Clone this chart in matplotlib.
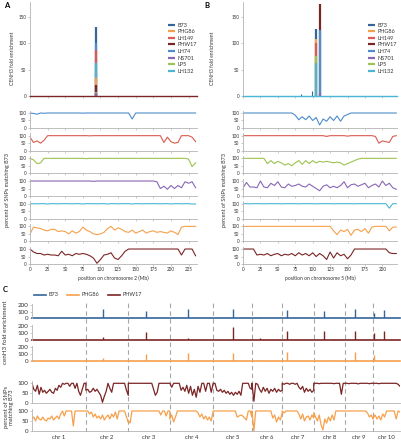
import matplotlib
matplotlib.use("Agg")
import matplotlib.pyplot as plt
import numpy as np

plt.rcParams["font.family"] = ["Lato", "DejaVu Sans"]

# genotypes shown in the enrichment legends (A, B)
names = ["B73", "PHG86", "LH149", "PHW17", "LH74", "NS701", "LP5", "LH132"]
colors = ["#34659b", "#f7a04b", "#dc5a50", "#7b2525", "#4e8ccc", "#8867b5", "#9dc350", "#49b7d3"]

# ---- panel A: chromosome 2 ----
a_chr_len = 237
a_peak_pos = [93, 93, 93, 93, 93, 93, 93, 93]
a_peak_h = [130, 35, 88, 20, 100, 5, 8, 62]
a_pos = np.arange(0, 240, 5)
a_lh74 = [100, 97, 92, 100, 98, 100, 100, 100, 100, 100, 100, 100,
          100, 100, 100, 99, 100, 100, 100, 100, 100, 100, 100, 100,
          100, 100, 100, 100, 100, 60, 100, 100, 100, 100, 100, 100,
          100, 100, 100, 100, 100, 100, 100, 100, 100, 100, 100, 100]
a_lh149 = [90, 55, 65, 50, 70, 100, 100, 100, 100, 100, 100, 100,
           100, 100, 100, 100, 100, 99, 100, 100, 100, 100, 100, 100,
           100, 100, 100, 100, 100, 100, 100, 100, 100, 100, 100, 100,
           100, 100, 55, 90, 60, 50, 55, 100, 100, 100, 90, 60]
a_lp5 = [100, 90, 65, 70, 100, 100, 100, 100, 100, 100, 100, 100,
         100, 100, 100, 100, 98, 100, 100, 100, 100, 100, 100, 100,
         100, 100, 100, 100, 100, 100, 100, 100, 100, 100, 100, 100,
         100, 100, 100, 100, 100, 100, 100, 100, 100, 95, 45, 70]
a_ns701 = [100, 100, 100, 100, 100, 100, 100, 100, 100, 100, 100, 100,
           100, 100, 100, 100, 100, 100, 98, 100, 100, 100, 100, 100,
           100, 100, 100, 100, 100, 100, 100, 100, 100, 100, 100, 100,
           95, 50, 65, 45, 70, 50, 70, 55, 95, 85, 95, 55]
a_lh132 = [98, 100, 99, 100, 100, 98, 100, 100, 99, 100, 100, 100,
           99, 100, 100, 98, 100, 100, 100, 99, 100, 100, 98, 100,
           100, 99, 100, 100, 100, 98, 100, 100, 99, 100, 100, 100,
           100, 99, 100, 100, 98, 100, 100, 99, 100, 100, 98, 98]
a_phg86 = [50, 95, 90, 85, 75, 70, 80, 80, 65, 70, 65, 50,
           70, 55, 65, 95, 75, 65, 50, 45, 50, 60, 85, 100,
           75, 90, 80, 65, 60, 75, 55, 65, 75, 55, 65, 70,
           60, 65, 60, 55, 70, 60, 45, 95, 100, 100, 100, 100]
a_phw17 = [100, 80, 70, 70, 60, 65, 60, 60, 55, 85, 60, 65,
           55, 70, 65, 70, 65, 55, 40, 5, 30, 60, 65, 75,
           40, 30, 55, 85, 100, 100, 100, 100, 100, 100, 100, 100,
           100, 100, 100, 100, 100, 100, 100, 60, 100, 100, 100, 55]

# ---- panel B: chromosome 5 ----
b_chr_len = 221
b_peak_pos = [105, 105, 105, 110, 110, 110, 105, 105]
b_peak_h = [128, 108, 100, 175, 125, 5, 75, 62]
b_minor_pos = [83, 99]
b_minor_h = [3, 10]
b_pos = np.arange(0, 225, 5)
b_lh74 = [100, 100, 100, 100, 100, 100, 100, 100, 100, 100, 100, 100,
          100, 100, 100, 85, 55, 75, 55, 80, 50, 70, 20, 60,
          45, 75, 50, 80, 45, 80, 90, 100, 100, 100, 100, 100,
          100, 100, 100, 100, 100, 100, 100, 100, 100]
b_lh149 = [100, 100, 100, 100, 100, 100, 100, 100, 100, 100, 100, 100,
           100, 100, 100, 100, 100, 100, 100, 100, 100, 100, 100, 100,
           95, 100, 100, 100, 100, 100, 97, 100, 100, 100, 100, 100,
           100, 100, 95, 50, 65, 60, 55, 95, 100]
b_lp5 = [100, 100, 100, 100, 100, 100, 100, 65, 85, 65, 80, 70,
         55, 65, 50, 70, 85, 60, 85, 65, 85, 70, 80, 75,
         80, 75, 70, 75, 70, 55, 65, 75, 85, 95, 100, 100,
         100, 100, 100, 100, 100, 100, 100, 100, 100]
b_ns701 = [55, 90, 60, 60, 55, 100, 60, 55, 85, 70, 95, 60,
           55, 80, 65, 70, 80, 65, 60, 80, 65, 50, 35, 65,
           75, 55, 65, 55, 70, 95, 55, 75, 80, 65, 75, 85,
           55, 70, 80, 60, 100, 70, 85, 55, 45]
b_lh132 = [100, 100, 99, 100, 100, 100, 99, 100, 100, 100, 100, 99,
           100, 100, 100, 100, 99, 100, 100, 100, 100, 99, 100, 100,
           100, 100, 99, 100, 100, 100, 100, 100, 99, 100, 100, 100,
           100, 100, 100, 100, 100, 100, 70, 100, 100]
b_phg86 = [100, 100, 100, 100, 100, 100, 100, 100, 100, 100, 100, 100,
           100, 100, 100, 100, 100, 100, 100, 100, 100, 100, 100, 100,
           100, 100, 70, 45, 75, 65, 80, 40, 75, 80, 65, 85,
           55, 95, 100, 100, 100, 100, 70, 95, 95]
b_phw17 = [100, 100, 100, 100, 60, 65, 60, 70, 55, 65, 70, 55,
           65, 60, 70, 55, 75, 60, 70, 55, 75, 50, 70, 55,
           30, 80, 40, 75, 55, 65, 35, 60, 100, 100, 100, 100,
           100, 100, 100, 100, 100, 100, 75, 70, 70]

# ---- panel C: whole genome ----
chr_len = [301, 237, 232, 242, 217, 169, 176, 175, 157, 150]
cen_chr = [2, 3, 4, 5, 6, 7, 8, 8, 9, 10, 10]
cen_pos = [95, 100, 100, 112, 45, 26, 56, 106, 56, 5, 61]
c_b73_h = [135, 105, 135, 135, 20, 120, 110, 10, 135, 80, 125]
c_phw17_h = [35, 105, 20, 185, 25, 130, 120, 10, 120, 90, 120]
c_phg86_h = [45, 100, 110, 115, 15, 125, 0, 5, 125, 80, 0]

c_phw17_snp = [
    [100, 70, 60, 90, 45, 80, 55, 65, 50, 60, 70, 55, 50, 75, 65, 90, 80, 100, 95, 100, 100, 85, 100, 100, 75, 100, 60, 40, 70, 100, 100],
    [65, 70, 55, 60, 75, 60, 70, 55, 40, 5, 35, 60, 100, 75, 55, 100, 100, 100, 100, 100, 100, 100, 65, 40],
    [100, 100, 100, 100, 100, 100, 100, 100, 100, 100, 100, 100, 100, 100, 70, 40, 55, 100, 100, 100, 100, 100, 100, 100],
    [100, 80, 100, 100, 100, 100, 65, 80, 60, 90, 50, 85, 40, 70, 30, 85, 55, 100, 100, 60, 100, 100, 55, 100],
    [100, 100, 65, 60, 70, 55, 65, 50, 60, 45, 55, 40, 55, 45, 60, 40, 100, 100, 100, 100, 75, 70],
    [100, 10, 100, 95, 70, 55, 80, 60, 75, 50, 70, 60, 75, 55, 70, 60, 65],
    [100, 95, 100, 100, 95, 100, 100, 95, 100, 80, 70, 85, 55, 75, 60, 70, 55, 65],
    [100, 100, 100, 98, 100, 100, 100, 100, 100, 100, 100, 98, 100, 100, 100, 45, 100, 100],
    [100, 100, 98, 100, 100, 100, 100, 97, 100, 100, 100, 100, 100, 98, 100, 100],
    [100, 100, 100, 98, 100, 100, 100, 100, 100, 100, 100, 100, 100, 95, 85],
]
c_phg86_snp = [
    [60, 70, 50, 75, 60, 55, 70, 55, 50, 65, 60, 75, 55, 65, 75, 60, 85, 100, 75, 100, 100, 100, 100, 25, 100, 100, 100, 100, 100, 100, 100],
    [100, 100, 85, 95, 70, 85, 65, 75, 60, 80, 55, 70, 80, 60, 85, 70, 95, 60, 100, 100, 100, 100, 70, 45],
    [50, 40, 100, 100, 100, 100, 100, 100, 100, 100, 100, 100, 100, 100, 100, 100, 100, 100, 80, 100, 100, 75, 100, 100],
    [60, 80, 45, 70, 100, 100, 100, 100, 100, 100, 100, 100, 100, 100, 100, 90, 70, 85, 60, 75, 55, 70, 50, 100],
    [100, 100, 100, 100, 100, 100, 100, 100, 100, 100, 100, 100, 100, 70, 75, 80, 75, 65, 55, 100, 100, 70],
    [100, 0, 100, 100, 100, 100, 100, 100, 100, 100, 100, 65, 80, 45, 70, 55, 90],
    [100, 90, 100, 100, 100, 100, 100, 100, 100, 85, 60, 85, 50, 70, 75, 55, 80, 65],
    [90, 70, 50, 80, 30, 5, 60, 40, 70, 50, 80, 55, 100, 100, 100, 100, 100, 100],
    [100, 100, 100, 100, 100, 100, 100, 100, 100, 100, 100, 100, 90, 70, 80, 60],
    [65, 80, 60, 75, 55, 85, 70, 100, 100, 100, 100, 100, 60, 100, 95],
]

W, H = 402, 440
fig = plt.figure(figsize=(W / 100, H / 100), dpi=100)

GREY = "#b3b3b3"
TXT = "#333333"


def box(left, top, right, bottom):
    # pixel rectangle -> figure fraction
    return [left / W, 1 - bottom / H, (right - left) / W, (bottom - top) / H]


def style(ax, fs):
    ax.patch.set_alpha(0)
    for s in ("top", "right"):
        ax.spines[s].set_visible(False)
    for s in ("left", "bottom"):
        ax.spines[s].set_color(GREY)
        ax.spines[s].set_linewidth(0.6)
    ax.tick_params(labelsize=fs, colors=GREY, labelcolor=TXT, length=1.5, width=0.5, pad=1)


def chrom_panel(x0, x1, xmax, peak_pos, peak_h, base_col, pos, tracks, chrom, leg_x, lab_x, snp_lab_x):
    ax = fig.add_axes(box(x0, 2.2, x1, 96))
    style(ax, 3.3)
    ax.set_xlim(0, xmax)
    ax.set_ylim(0, 178)
    ax.set_yticks([0, 50, 100, 150])
    ax.set_xticks(np.arange(0, xmax, 25))
    ax.set_xticklabels([])
    handles = {}
    for k in np.argsort(peak_h)[::-1]:
        handles[k] = ax.vlines(peak_pos[k], 0, peak_h[k], color=colors[k], lw=1.6, zorder=2)
    ax.axhline(0, color=base_col, lw=1.0, clip_on=False, zorder=3)
    ax.legend([handles[k] for k in range(len(names))], names, loc="upper left",
              bbox_to_anchor=(leg_x / W, 1 - 20 / H), bbox_transform=fig.transFigure,
              frameon=False, fontsize=4, handlelength=1.3, handletextpad=0.4,
              labelspacing=0.28, borderpad=0, labelcolor=TXT)
    fig.text(lab_x / W, 1 - 58 / H, "CENH3 fold enrichment", rotation=90,
             fontsize=3.6, ha="center", va="center", color=TXT)

    for i, (vals, col) in enumerate(tracks):
        bottom = 128 + 22.67 * i
        sx = fig.add_axes(box(x0, bottom - 17.25, x1, bottom))
        style(sx, 3.3)
        sx.plot(pos, vals, color=col, lw=0.8)
        sx.set_xlim(0, xmax)
        sx.set_ylim(0, 115)
        sx.set_yticks([0, 50, 100])
        sx.set_xticks(np.arange(0, xmax, 25))
        if i < len(tracks) - 1:
            sx.set_xticklabels([])
    fig.text((x0 + x1) / 2 / W, 1 - 278 / H, f"position on chromosome {chrom} (Mb)",
             fontsize=3.6, ha="center", va="center", color=TXT)
    fig.text(snp_lab_x / W, 1 - 190 / H, "percent of SNPs matching B73", rotation=90,
             fontsize=4, ha="center", va="center", color=TXT)
    return ax


a_tracks = [(a_lh74, colors[4]), (a_lh149, colors[2]), (a_lp5, colors[6]), (a_ns701, colors[5]),
            (a_lh132, colors[7]), (a_phg86, colors[1]), (a_phw17, colors[3])]
b_tracks = [(b_lh74, colors[4]), (b_lh149, colors[2]), (b_lp5, colors[6]), (b_ns701, colors[5]),
            (b_lh132, colors[7]), (b_phg86, colors[1]), (b_phw17, colors[3])]

chrom_panel(30, 197, a_chr_len, a_peak_pos, a_peak_h, colors[3], a_pos, a_tracks, 2, 165, 13, 8)
bx = chrom_panel(243, 397, b_chr_len, b_peak_pos, b_peak_h, colors[7], b_pos, b_tracks, 5, 365, 213, 225)
bx.vlines(b_minor_pos, 0, b_minor_h, color=colors[0], lw=0.8)

fig.text(4 / W, 1 - 6 / H, "A", fontsize=5.5, fontweight="bold", ha="left", va="center")
fig.text(204 / W, 1 - 6 / H, "B", fontsize=5.5, fontweight="bold", ha="left", va="center")
fig.text(3 / W, 1 - 289 / H, "C", fontsize=5.5, fontweight="bold", ha="left", va="center")

# ---- panel C ----
starts = np.concatenate([[0], np.cumsum(chr_len)[:-1]])
total = sum(chr_len)
ov = fig.add_axes(box(32, 302, 400, 432))
ov.set_xlim(0, total)
ov.set_ylim(0, 1)
ov.axis("off")
ov.vlines(np.cumsum(chr_len)[:-1], 0, 1, colors="#a6a6a6", linestyles=(0, (4, 3)), lw=0.8)
for k, ln in enumerate(chr_len):
    ov.text(starts[k] + ln / 2, -0.04, f"chr {k + 1}", ha="center", va="center",
            fontsize=4.3, color=TXT)

cen_x = np.array([starts[c - 1] for c in cen_chr]) + np.array(cen_pos)
c_rows = [("B73", c_b73_h, colors[0]), ("PHW17", c_phw17_h, colors[3]), ("PHG86", c_phg86_h, colors[1])]
c_handles = {}
for r, (name, hts, col) in enumerate(c_rows):
    y0 = 318.3 + 21.2 * r
    ax = fig.add_axes(box(32, y0 - 14.6, 400, y0))
    style(ax, 4.5)
    ax.spines["bottom"].set_visible(False)
    ax.set_xlim(0, total)
    ax.set_ylim(0, 215)
    ax.set_yticks([0, 100, 200])
    ax.set_xticks([])
    ax.vlines(cen_x, 0, hts, color=col, lw=1.0)
    c_handles[name] = ax.axhline(0, color=col, lw=1.2, clip_on=False)

c_leg = ["B73", "PHG86", "PHW17"]
fig.legend([c_handles[n] for n in c_leg], c_leg, loc="center left",
           bbox_to_anchor=(31 / W, 1 - 295 / H), ncol=3, frameon=False, fontsize=4,
           handlelength=2.2, handletextpad=0.4, columnspacing=1.6, borderpad=0, labelcolor=TXT)

for r, (tracks, col) in enumerate([(c_phw17_snp, colors[3]), (c_phg86_snp, colors[1])]):
    y0 = 403.3 + 27.7 * r
    ax = fig.add_axes(box(32, y0 - 22, 400, y0))
    style(ax, 4.5)
    gx = np.concatenate([starts[k] + np.linspace(0, chr_len[k], len(v)) for k, v in enumerate(tracks)])
    gy = np.concatenate(tracks)
    ax.plot(gx, gy, color=col, lw=0.9)
    ax.set_xlim(0, total)
    ax.set_ylim(0, 110)
    ax.set_yticks([0, 50, 100])
    ax.set_xticks([])

fig.text(6 / W, 1 - 332 / H, "cenH3 fold enrichment", rotation=90, fontsize=4.5,
         ha="center", va="center", color=TXT)
fig.text(9 / W, 1 - 407 / H, "percent of SNPs\nmatching B73", rotation=90, fontsize=4.2,
         ha="center", va="center", color=TXT, linespacing=1.0)

fig.savefig("out.png", dpi=100)
